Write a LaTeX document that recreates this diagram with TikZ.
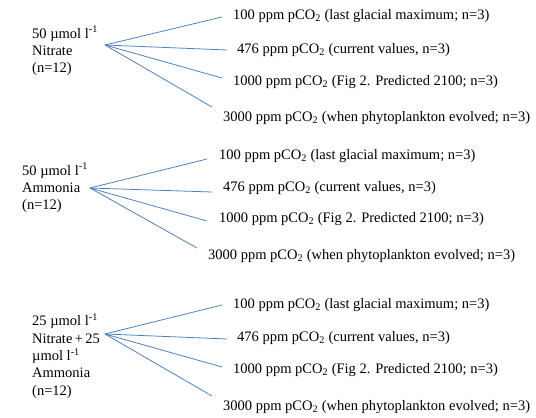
\documentclass[tikz,border=0pt]{standalone}
\usepackage{fontspec}
\setmainfont{Liberation Serif}
\definecolor{fanblue}{HTML}{4F81BD}
\begin{document}
\begin{tikzpicture}[x=1pt,y=-1pt,
  lbl/.style={anchor=west,inner sep=0pt,font=\fontsize{14.5}{17.5}\selectfont},
  grp/.style={anchor=west,inner sep=0pt,align=left,font=\fontsize{14.5}{17.3}\selectfont},
  fan/.style={draw=fanblue,line width=0.8pt}]
\useasboundingbox (0,0) rectangle (536,418);
\newcommand{\umol}{50 µmol l\textsuperscript{-1}}
\newcommand{\pco}{ppm pCO\textsubscript{2}}
% group 1
\node[grp] (g1) at (32,51) {\umol\\Nitrate\\(n=12)};
\coordinate (o1) at (105,45);
\coordinate (e1a) at (222,17);
\coordinate (e1b) at (227,50);
\coordinate (e1c) at (222,78);
\coordinate (e1d) at (212,107);
\node[lbl] (t1a) at (233,16) {100 \pco{} (last glacial maximum; n=3)};
\node[lbl] (t1b) at (237,50) {476 \pco{} (current values, n=3)};
\node[lbl] (t1c) at (233,82) {1000 \pco{} (Fig 2. Predicted 2100; n=3)};
\node[lbl] (t1d) at (223,118) {3000 \pco{} (when phytoplankton evolved; n=3)};
\foreach \e in {e1a,e1b,e1c,e1d} \draw[fan] (o1) -- (\e);
% group 2
\node[grp] (g2) at (22,188) {\umol\\Ammonia\\(n=12)};
\coordinate (o2) at (90,188);
\coordinate (e2a) at (207,159);
\coordinate (e2b) at (212,192);
\coordinate (e2c) at (207,221);
\coordinate (e2d) at (197,248);
\node[lbl] (t2a) at (219,156) {100 \pco{} (last glacial maximum; n=3)};
\node[lbl] (t2b) at (223,188) {476 \pco{} (current values, n=3)};
\node[lbl] (t2c) at (219,219) {1000 \pco{} (Fig 2. Predicted 2100; n=3)};
\node[lbl] (t2d) at (208,256) {3000 \pco{} (when phytoplankton evolved; n=3)};
\foreach \e in {e2a,e2b,e2c,e2d} \draw[fan] (o2) -- (\e);
% group 3
\node[grp] (g3) at (32,356) {25 µmol l\textsuperscript{-1}\\Nitrate\,+\,25\\µmol l\textsuperscript{-1}\\Ammonia\\(n=12)};
\coordinate (o3) at (105,334);
\coordinate (e3a) at (222,305);
\coordinate (e3b) at (227,339);
\coordinate (e3c) at (222,367);
\coordinate (e3d) at (212,396);
\node[lbl] (t3a) at (233,305) {100 \pco{} (last glacial maximum; n=3)};
\node[lbl] (t3b) at (237,338) {476 \pco{} (current values, n=3)};
\node[lbl] (t3c) at (233,370) {1000 \pco{} (Fig 2. Predicted 2100; n=3)};
\node[lbl] (t3d) at (223,407) {3000 \pco{} (when phytoplankton evolved; n=3)};
\foreach \e in {e3a,e3b,e3c,e3d} \draw[fan] (o3) -- (\e);
\end{tikzpicture}
\end{document}
